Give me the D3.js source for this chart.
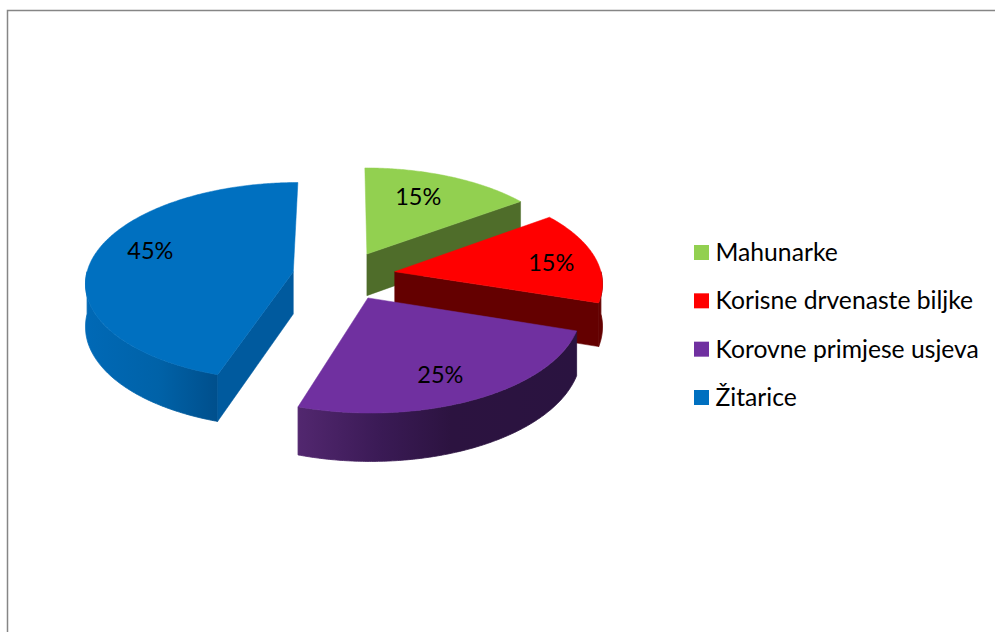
<!DOCTYPE html>
<html>
<head>
<meta charset="utf-8">
<script src="https://cdn.jsdelivr.net/npm/d3@7"></script>
<style>
  html, body { margin: 0; padding: 0; background: #fff; overflow: hidden; }
  svg { display: block; }
  text { font-family: Lato, "Open Sans", sans-serif; fill: #000; }
</style>
</head>
<body>
<svg id="chart"></svg>
<script>
// data, in clockwise order from 12 o'clock
const categories = ['Mahunarke', 'Korisne drvenaste biljke', 'Korovne primjese usjeva', 'Žitarice'];
const shares = [15, 15, 25, 45];

// styles
const topColors = ['#92d050', '#ff0000', '#7030a0', '#0070c0'];
const wallColors = ['#4f6d2a', '#640000', '#2c1340', '#005a9e'];
// rim shading, [offset along the rim's width from left to right, colour]
const rimStops = [
  [[0, '#4f6d2a'], [1, '#4f6d2a']],
  [[0, '#640000'], [1, '#640000']],
  [[0, '#52276f'], [0.3, '#3a1a55'], [0.55, '#2c1340'], [1, '#2a1340']],
  [[0, '#0069b6'], [0.55, '#0062a8'], [1, '#004f8c']]
];
const labelNudge = [[-8, -2], [16, 1], [-1, 7], [-2.5, -11]];

const W = 995, H = 632;

/* ── Pie geometry ── */
const cx = 344, cy = 275.5;
const rx = 207, ry = 98.8;     // disc radius on screen
const explode = 0.249;         // slice pull-out, in disc radii
const persp = 0.1;             // nearer parts of the disc draw bigger
const depth = 42.5;

const svg = d3.select('#chart').attr('width', W).attr('height', H);
const defs = svg.append('defs');

/* ── Frame, runs off the right and bottom of the picture ── */
svg.append('rect')
  .attr('x', 7.5).attr('y', 10.5)
  .attr('width', W + 20).attr('height', H + 20)
  .attr('fill', 'none')
  .attr('stroke', '#868686')
  .attr('stroke-width', 1.5);

const slices = d3.pie().sort(null).value((d) => d)(shares);

// project a point of the exploded slice to the screen, drop = 1 for the lower face
function project(d, angle, r, drop = 0) {
  const mid = (d.startAngle + d.endAngle) / 2;
  const u = r * Math.sin(angle) + explode * Math.sin(mid);
  const v = -r * Math.cos(angle) - explode * Math.cos(mid);
  const s = 1 / (1 - persp * v);
  return [cx + rx * u * s, cy + ry * v * s + depth * s * drop];
}

function arcPoints(d, a0, a1, drop = 0) {
  const n = Math.max(2, Math.ceil(Math.abs(a1 - a0) / 0.01));
  return d3.range(n + 1).map((i) => project(d, a0 + (a1 - a0) * i / n, 1, drop));
}

const line = d3.line();
const closed = (pts) => line(pts) + 'Z';
const g = svg.append('g');

/* ── Slices, back to front: blue, green, red, purple ── */
[3, 0, 1, 2].forEach((i) => {
  const d = slices[i];
  const a0 = d.startAngle, a1 = d.endAngle;

  // rim, front half of the disc only
  const from = Math.max(a0, Math.PI / 2), to = Math.min(a1, Math.PI * 3 / 2);
  if (to > from) {
    const rim = [...arcPoints(d, from, to), ...arcPoints(d, to, from, 1)];
    const xs = d3.extent(rim, (p) => p[0]);
    const grad = defs.append('linearGradient')
      .attr('id', `rim${i}`)
      .attr('gradientUnits', 'userSpaceOnUse')
      .attr('x1', xs[0]).attr('x2', xs[1])
      .attr('y1', 0).attr('y2', 0);
    grad.selectAll('stop')
      .data(rimStops[i])
      .join('stop')
      .attr('offset', (s) => s[0])
      .attr('stop-color', (s) => s[1]);
    g.append('path')
      .attr('d', closed(rim))
      .attr('fill', `url(#rim${i})`)
      .attr('stroke', `url(#rim${i})`)
      .attr('stroke-width', 0.8);
  }

  // radial walls, only the ones facing the viewer
  [[a0, Math.sin(a0) < -1e-6], [a1, Math.sin(a1) > 1e-6]].forEach(([a, visible]) => {
    if (!visible) return;
    g.append('path')
      .attr('d', closed([
        project(d, a, 0), project(d, a, 1),
        project(d, a, 1, 1), project(d, a, 0, 1)
      ]))
      .attr('fill', wallColors[i])
      .attr('stroke', wallColors[i])
      .attr('stroke-width', 0.5);
  });

  // top face
  g.append('path')
    .attr('d', closed([project(d, a0, 0), ...arcPoints(d, a0, a1)]))
    .attr('fill', topColors[i])
    .attr('stroke', topColors[i])
    .attr('stroke-width', 0.5);
});

/* ── Percent labels ── */
slices.forEach((d, i) => {
  const [x, y] = project(d, (d.startAngle + d.endAngle) / 2, 0.7);
  svg.append('text')
    .attr('x', x + labelNudge[i][0])
    .attr('y', y + labelNudge[i][1])
    .attr('text-anchor', 'middle')
    .attr('dominant-baseline', 'central')
    .attr('font-size', 23.5)
    .text(d.data + '%');
});

/* ── Legend ── */
const legendY = d3.scalePoint().domain(categories).range([252.5, 397.5]);
const legend = svg.append('g').selectAll('g')
  .data(categories)
  .join('g')
  .attr('transform', (c) => `translate(694,${legendY(c)})`);

legend.append('rect')
  .attr('y', -7.5)
  .attr('width', 15).attr('height', 15)
  .attr('fill', (c, i) => topColors[i]);

legend.append('text')
  .attr('x', 21.5).attr('y', 8.5)
  .attr('font-size', 24.7)
  .text((c) => c);
</script>
</body>
</html>
